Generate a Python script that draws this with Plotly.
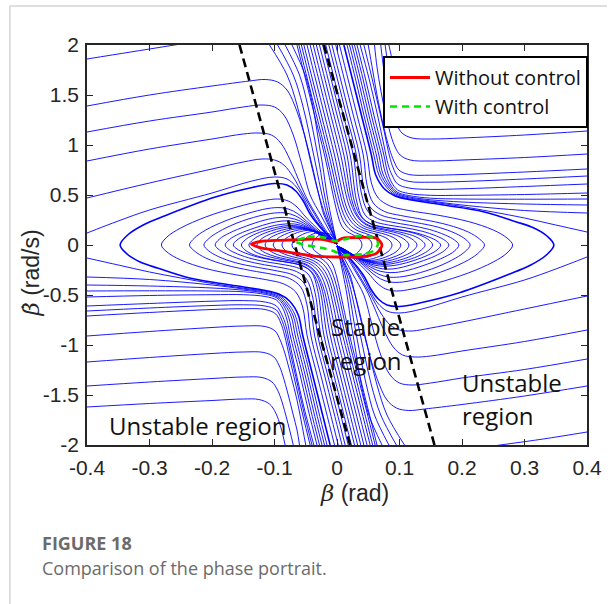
import plotly.graph_objects as go

# ---------------- tick labels ----------------
x_tick_vals = [-0.4, -0.3, -0.2, -0.1, 0.0, 0.1, 0.2, 0.3, 0.4]
x_tick_text = ["-0.4", "-0.3", "-0.2", "-0.1", "0", "0.1", "0.2", "0.3", "0.4"]
y_tick_vals = [2, 1.5, 1, 0.5, 0, -0.5, -1, -1.5, -2]
y_tick_text = ["2", "1.5", "1", "0.5", "0", "-0.5", "-1", "-1.5", "-2"]

# ---------------- streamlines: upper-left, entering from left edge ----------------
tl_x = [
    [-0.4, -0.33, -0.255],
    [-0.4, -0.3, -0.2, -0.14, -0.115, -0.095, -0.08, -0.068, -0.052, -0.04, -0.029, -0.021, -0.01, 0.0],
    [-0.4, -0.3, -0.2, -0.15, -0.12, -0.1, -0.085, -0.07, -0.056, -0.043, -0.026, -0.013, 0.0],
    [-0.4, -0.3, -0.2, -0.15, -0.125, -0.105, -0.09, -0.075, -0.058, -0.047, -0.031, -0.015, 0.0],
    [-0.4, -0.3, -0.2, -0.15, -0.12, -0.1, -0.085, -0.07, -0.054, -0.035, -0.017, 0.0],
    [-0.4, -0.35, -0.3, -0.2, -0.136, -0.1, -0.08, -0.065, -0.052, -0.039, -0.018, 0.0],
]
tl_y = [
    [1.86, 1.93, 2.005],
    [1.39, 1.50, 1.59, 1.64, 1.655, 1.63, 1.55, 1.4, 1.1, 0.8, 0.5, 0.3, 0.15, 0.01],
    [1.13, 1.24, 1.33, 1.38, 1.40, 1.38, 1.3, 1.1, 0.8, 0.5, 0.3, 0.15, 0.01],
    [0.84, 0.96, 1.06, 1.11, 1.12, 1.1, 1.02, 0.85, 0.6, 0.45, 0.28, 0.12, 0.01],
    [0.47, 0.62, 0.76, 0.83, 0.86, 0.85, 0.8, 0.68, 0.5, 0.3, 0.12, 0.01],
    [0.12, 0.24, 0.35, 0.52, 0.64, 0.68, 0.66, 0.58, 0.45, 0.3, 0.12, 0.01],
]

# lower-right, entering from right edge
br_x = [
    [0.4, 0.33, 0.255],
    [0.4, 0.3, 0.2, 0.14, 0.115, 0.095, 0.08, 0.068, 0.052, 0.04, 0.029, 0.021, 0.01, 0.0],
    [0.4, 0.3, 0.2, 0.15, 0.12, 0.1, 0.085, 0.07, 0.056, 0.043, 0.026, 0.013, 0.0],
    [0.4, 0.3, 0.2, 0.15, 0.125, 0.105, 0.09, 0.075, 0.058, 0.047, 0.031, 0.015, 0.0],
    [0.4, 0.3, 0.2, 0.15, 0.12, 0.1, 0.085, 0.07, 0.054, 0.035, 0.017, 0.0],
    [0.4, 0.35, 0.3, 0.2, 0.136, 0.1, 0.08, 0.065, 0.052, 0.039, 0.018, 0.0],
]
br_y = [
    [-1.87, -1.94, -2.005],
    [-1.41, -1.51, -1.595, -1.64, -1.655, -1.63, -1.55, -1.4, -1.1, -0.8, -0.5, -0.3, -0.15, -0.01],
    [-1.14, -1.245, -1.33, -1.38, -1.40, -1.38, -1.3, -1.1, -0.8, -0.5, -0.3, -0.15, -0.01],
    [-0.85, -0.965, -1.06, -1.11, -1.12, -1.1, -1.02, -0.85, -0.6, -0.45, -0.28, -0.12, -0.01],
    [-0.51, -0.64, -0.77, -0.83, -0.86, -0.85, -0.8, -0.68, -0.5, -0.3, -0.12, -0.01],
    [-0.12, -0.24, -0.35, -0.52, -0.64, -0.68, -0.66, -0.58, -0.45, -0.3, -0.12, -0.01],
]

# top bundle, left part -> into the node
t_x = [
    [-0.108, -0.08, -0.064, -0.052, -0.041, -0.029, -0.019, -0.009, 0.0],
    [-0.095, -0.07, -0.055, -0.044, -0.034, -0.024, -0.016, -0.008, 0.0],
    [-0.083, -0.06, -0.047, -0.037, -0.028, -0.02, -0.013, -0.006, 0.0],
    [-0.072, -0.051, -0.039, -0.031, -0.023, -0.016, -0.01, -0.005, 0.0],
]
t_y = [
    [2.0, 1.7, 1.4, 1.1, 0.8, 0.5, 0.3, 0.15, 0.01],
    [2.0, 1.7, 1.4, 1.1, 0.8, 0.5, 0.3, 0.15, 0.01],
    [2.0, 1.7, 1.4, 1.1, 0.8, 0.5, 0.3, 0.15, 0.01],
    [2.0, 1.7, 1.4, 1.1, 0.8, 0.5, 0.3, 0.15, 0.01],
]
# bottom bundle, right part -> into the node
b_x = [
    [0.108, 0.08, 0.064, 0.052, 0.041, 0.029, 0.019, 0.009, 0.0],
    [0.095, 0.07, 0.055, 0.044, 0.034, 0.024, 0.016, 0.008, 0.0],
    [0.083, 0.06, 0.047, 0.037, 0.028, 0.02, 0.013, 0.006, 0.0],
    [0.072, 0.051, 0.039, 0.031, 0.023, 0.016, 0.01, 0.005, 0.0],
]
b_y = [
    [-2.0, -1.7, -1.4, -1.1, -0.8, -0.5, -0.3, -0.15, -0.01],
    [-2.0, -1.7, -1.4, -1.1, -0.8, -0.5, -0.3, -0.15, -0.01],
    [-2.0, -1.7, -1.4, -1.1, -0.8, -0.5, -0.3, -0.15, -0.01],
    [-2.0, -1.7, -1.4, -1.1, -0.8, -0.5, -0.3, -0.15, -0.01],
]

# nested "<" family on the left (from bottom bundle, around vertex, into node)
lf_x = [
    [-0.011, -0.025, -0.039, -0.055, -0.062, -0.076, -0.093, -0.119, -0.17, -0.234, -0.286, -0.315, -0.336, -0.347, -0.335, -0.31, -0.275, -0.196, -0.134, -0.1, -0.08, -0.066, -0.054, -0.042, -0.02, 0.0],
    [-0.004, -0.018, -0.032, -0.048, -0.055, -0.066, -0.085, -0.115, -0.16, -0.21, -0.25, -0.272, -0.281, -0.272, -0.25, -0.21, -0.16, -0.12, -0.095, -0.078, -0.064, -0.05, -0.027, 0.0],
    [0.002, -0.012, -0.026, -0.042, -0.048, -0.058, -0.076, -0.102, -0.138, -0.178, -0.21, -0.228, -0.236, -0.228, -0.21, -0.175, -0.135, -0.105, -0.085, -0.07, -0.056, -0.04, -0.02, 0.0],
    [0.008, -0.006, -0.02, -0.036, -0.043, -0.053, -0.07, -0.095, -0.126, -0.162, -0.19, -0.206, -0.213, -0.205, -0.19, -0.16, -0.125, -0.1, -0.082, -0.066, -0.051, -0.035, -0.017, 0.0],
    [0.013, -0.001, -0.015, -0.031, -0.039, -0.049, -0.065, -0.088, -0.116, -0.148, -0.173, -0.188, -0.195, -0.188, -0.172, -0.145, -0.115, -0.093, -0.077, -0.061, -0.046, -0.031, -0.015, 0.0],
    [0.018, 0.004, -0.01, -0.026, -0.035, -0.045, -0.06, -0.082, -0.107, -0.136, -0.159, -0.173, -0.179, -0.172, -0.157, -0.132, -0.106, -0.088, -0.073, -0.058, -0.043, -0.028, -0.013, 0.0],
    [0.023, 0.009, -0.005, -0.021, -0.031, -0.041, -0.056, -0.076, -0.099, -0.126, -0.147, -0.16, -0.166, -0.16, -0.146, -0.123, -0.1, -0.083, -0.068, -0.054, -0.04, -0.026, -0.012, 0.0],
    [0.028, 0.014, 0.0, -0.016, -0.028, -0.039, -0.054, -0.073, -0.095, -0.117, -0.136, -0.148, -0.153, -0.147, -0.134, -0.114, -0.094, -0.077, -0.063, -0.05, -0.037, -0.024, -0.011, 0.0],
    [0.033, 0.019, 0.005, -0.011, -0.025, -0.036, -0.05, -0.067, -0.087, -0.107, -0.125, -0.136, -0.141, -0.135, -0.124, -0.106, -0.088, -0.073, -0.06, -0.047, -0.035, -0.022, -0.01, 0.0],
    [0.038, 0.024, 0.01, -0.006, -0.022, -0.034, -0.047, -0.063, -0.081, -0.099, -0.114, -0.124, -0.128, -0.123, -0.113, -0.097, -0.081, -0.067, -0.055, -0.044, -0.032, -0.02, -0.009, 0.0],
    [0.043, 0.029, 0.015, -0.001, -0.019, -0.03, -0.042, -0.057, -0.073, -0.089, -0.102, -0.111, -0.115, -0.111, -0.102, -0.088, -0.074, -0.061, -0.05, -0.04, -0.029, -0.018, -0.008, 0.0],
    [0.048, 0.034, 0.02, 0.004, -0.015, -0.026, -0.037, -0.05, -0.064, -0.078, -0.09, -0.098, -0.102, -0.098, -0.09, -0.078, -0.066, -0.055, -0.045, -0.036, -0.026, -0.016, -0.007, 0.0],
    [0.053, 0.039, 0.025, 0.009, -0.012, -0.022, -0.032, -0.043, -0.055, -0.067, -0.078, -0.085, -0.088, -0.085, -0.078, -0.068, -0.058, -0.048, -0.039, -0.031, -0.023, -0.014, -0.006, 0.0],
    [0.057, 0.043, 0.029, 0.013, -0.008, -0.017, -0.026, -0.035, -0.045, -0.054, -0.063, -0.069, -0.072, -0.069, -0.063, -0.055, -0.047, -0.039, -0.031, -0.024, -0.017, -0.01, -0.004, 0.0],
    [0.061, 0.047, 0.033, 0.017, -0.004, -0.012, -0.019, -0.026, -0.034, -0.042, -0.049, -0.054, -0.056, -0.054, -0.049, -0.042, -0.035, -0.028, -0.022, -0.016, -0.011, -0.006, -0.002, 0.0],
    [0.064, 0.05, 0.036, 0.02, 0.0, -0.006, -0.011, -0.017, -0.023, -0.029, -0.034, -0.038, -0.04, -0.038, -0.034, -0.029, -0.023, -0.017, -0.012, -0.008, -0.004, -0.001, 0.0],
]
lf_y = [
    [-2.0, -1.65, -1.3, -0.9, -0.7, -0.56, -0.49, -0.45, -0.40, -0.333, -0.233, -0.17, -0.09, 0.0, 0.1, 0.2, 0.293, 0.477, 0.577, 0.615, 0.6, 0.54, 0.44, 0.3, 0.13, 0.01],
    [-2.0, -1.65, -1.3, -0.9, -0.62, -0.47, -0.39, -0.345, -0.3, -0.235, -0.15, -0.07, 0.0, 0.08, 0.17, 0.28, 0.38, 0.44, 0.46, 0.44, 0.38, 0.28, 0.14, 0.01],
    [-2.0, -1.65, -1.3, -0.9, -0.6, -0.42, -0.335, -0.295, -0.255, -0.2, -0.13, -0.06, 0.0, 0.07, 0.15, 0.25, 0.33, 0.37, 0.37, 0.34, 0.28, 0.19, 0.09, 0.01],
    [-2.0, -1.65, -1.3, -0.9, -0.56, -0.38, -0.3, -0.26, -0.225, -0.178, -0.115, -0.055, 0.0, 0.065, 0.13, 0.22, 0.29, 0.32, 0.32, 0.29, 0.23, 0.15, 0.07, 0.01],
    [-2.0, -1.65, -1.3, -0.9, -0.52, -0.34, -0.265, -0.228, -0.198, -0.155, -0.1, -0.05, 0.0, 0.06, 0.12, 0.19, 0.25, 0.275, 0.272, 0.245, 0.19, 0.125, 0.06, 0.01],
    [-2.0, -1.65, -1.3, -0.9, -0.48, -0.3, -0.235, -0.2, -0.175, -0.138, -0.09, -0.045, 0.0, 0.055, 0.11, 0.17, 0.22, 0.24, 0.238, 0.215, 0.165, 0.11, 0.05, 0.01],
    [-2.0, -1.65, -1.3, -0.9, -0.45, -0.27, -0.208, -0.177, -0.155, -0.122, -0.08, -0.04, 0.0, 0.05, 0.1, 0.155, 0.195, 0.21, 0.21, 0.19, 0.15, 0.1, 0.045, 0.01],
    [-2.0, -1.65, -1.3, -0.9, -0.43, -0.28, -0.21, -0.178, -0.155, -0.128, -0.09, -0.045, 0.0, 0.05, 0.1, 0.148, 0.18, 0.195, 0.19, 0.17, 0.135, 0.09, 0.04, 0.01],
    [-2.0, -1.65, -1.3, -0.9, -0.42, -0.27, -0.2, -0.17, -0.147, -0.12, -0.085, -0.043, 0.0, 0.05, 0.095, 0.14, 0.17, 0.183, 0.18, 0.16, 0.127, 0.085, 0.038, 0.01],
    [-2.0, -1.65, -1.3, -0.9, -0.42, -0.27, -0.2, -0.165, -0.142, -0.115, -0.08, -0.04, 0.0, 0.05, 0.092, 0.132, 0.16, 0.173, 0.17, 0.152, 0.12, 0.08, 0.036, 0.01],
    [-2.0, -1.65, -1.3, -0.9, -0.4, -0.26, -0.192, -0.158, -0.135, -0.11, -0.078, -0.04, 0.0, 0.05, 0.09, 0.126, 0.152, 0.164, 0.161, 0.145, 0.115, 0.077, 0.034, 0.01],
    [-2.0, -1.65, -1.3, -0.9, -0.38, -0.25, -0.185, -0.15, -0.128, -0.105, -0.075, -0.04, 0.0, 0.048, 0.086, 0.12, 0.144, 0.155, 0.152, 0.137, 0.109, 0.073, 0.032, 0.01],
    [-2.0, -1.65, -1.3, -0.9, -0.36, -0.24, -0.178, -0.143, -0.122, -0.1, -0.072, -0.04, 0.0, 0.046, 0.082, 0.113, 0.135, 0.146, 0.144, 0.13, 0.104, 0.07, 0.031, 0.01],
    [-2.0, -1.65, -1.3, -0.9, -0.35, -0.23, -0.17, -0.138, -0.117, -0.095, -0.07, -0.04, 0.0, 0.044, 0.078, 0.106, 0.126, 0.136, 0.134, 0.12, 0.096, 0.065, 0.03, 0.01],
    [-2.0, -1.65, -1.3, -0.9, -0.34, -0.22, -0.165, -0.133, -0.112, -0.092, -0.068, -0.04, 0.0, 0.04, 0.073, 0.1, 0.118, 0.127, 0.124, 0.11, 0.088, 0.06, 0.03, 0.01],
    [-2.0, -1.65, -1.3, -0.9, -0.33, -0.21, -0.16, -0.13, -0.11, -0.09, -0.066, -0.04, 0.0, 0.038, 0.07, 0.095, 0.11, 0.116, 0.11, 0.09, 0.06, 0.03, 0.01],
]

# nested ">" family on the right (from top bundle, around vertex, into node)
rf_x = [
    [0.011, 0.025, 0.039, 0.055, 0.062, 0.076, 0.093, 0.119, 0.17, 0.234, 0.286, 0.315, 0.336, 0.347, 0.335, 0.31, 0.275, 0.196, 0.134, 0.1, 0.08, 0.066, 0.054, 0.042, 0.02, 0.0],
    [0.004, 0.018, 0.032, 0.048, 0.055, 0.066, 0.085, 0.115, 0.16, 0.21, 0.25, 0.272, 0.281, 0.272, 0.25, 0.21, 0.16, 0.12, 0.095, 0.078, 0.064, 0.05, 0.027, 0.0],
    [-0.002, 0.012, 0.026, 0.042, 0.048, 0.058, 0.076, 0.102, 0.138, 0.178, 0.21, 0.228, 0.236, 0.228, 0.21, 0.175, 0.135, 0.105, 0.085, 0.07, 0.056, 0.04, 0.02, 0.0],
    [-0.008, 0.006, 0.02, 0.036, 0.043, 0.053, 0.07, 0.095, 0.126, 0.162, 0.19, 0.206, 0.213, 0.205, 0.19, 0.16, 0.125, 0.1, 0.082, 0.066, 0.051, 0.035, 0.017, 0.0],
    [-0.013, 0.001, 0.015, 0.031, 0.039, 0.049, 0.065, 0.088, 0.116, 0.148, 0.173, 0.188, 0.195, 0.188, 0.172, 0.145, 0.115, 0.093, 0.077, 0.061, 0.046, 0.031, 0.015, 0.0],
    [-0.018, -0.004, 0.01, 0.026, 0.035, 0.045, 0.06, 0.082, 0.107, 0.136, 0.159, 0.173, 0.179, 0.172, 0.157, 0.132, 0.106, 0.088, 0.073, 0.058, 0.043, 0.028, 0.013, 0.0],
    [-0.023, -0.009, 0.005, 0.021, 0.031, 0.041, 0.056, 0.076, 0.099, 0.126, 0.147, 0.16, 0.166, 0.16, 0.146, 0.123, 0.1, 0.083, 0.068, 0.054, 0.04, 0.026, 0.012, 0.0],
    [-0.028, -0.014, 0.0, 0.016, 0.028, 0.039, 0.054, 0.073, 0.095, 0.117, 0.136, 0.148, 0.153, 0.147, 0.134, 0.114, 0.094, 0.077, 0.063, 0.05, 0.037, 0.024, 0.011, 0.0],
    [-0.033, -0.019, -0.005, 0.011, 0.025, 0.036, 0.05, 0.067, 0.087, 0.107, 0.125, 0.136, 0.141, 0.135, 0.124, 0.106, 0.088, 0.073, 0.06, 0.047, 0.035, 0.022, 0.01, 0.0],
    [-0.038, -0.024, -0.01, 0.006, 0.022, 0.034, 0.047, 0.063, 0.081, 0.099, 0.114, 0.124, 0.128, 0.123, 0.113, 0.097, 0.081, 0.067, 0.055, 0.044, 0.032, 0.02, 0.009, 0.0],
    [-0.043, -0.029, -0.015, 0.001, 0.019, 0.03, 0.042, 0.057, 0.073, 0.089, 0.102, 0.111, 0.115, 0.111, 0.102, 0.088, 0.074, 0.061, 0.05, 0.04, 0.029, 0.018, 0.008, 0.0],
    [-0.048, -0.034, -0.02, -0.004, 0.015, 0.026, 0.037, 0.05, 0.064, 0.078, 0.09, 0.098, 0.102, 0.098, 0.09, 0.078, 0.066, 0.055, 0.045, 0.036, 0.026, 0.016, 0.007, 0.0],
    [-0.053, -0.039, -0.025, -0.009, 0.012, 0.022, 0.032, 0.043, 0.055, 0.067, 0.078, 0.085, 0.088, 0.085, 0.078, 0.068, 0.058, 0.048, 0.039, 0.031, 0.023, 0.014, 0.006, 0.0],
    [-0.057, -0.043, -0.029, -0.013, 0.008, 0.017, 0.026, 0.035, 0.045, 0.054, 0.063, 0.069, 0.072, 0.069, 0.063, 0.055, 0.047, 0.039, 0.031, 0.024, 0.017, 0.01, 0.004, 0.0],
    [-0.061, -0.047, -0.033, -0.017, 0.004, 0.012, 0.019, 0.026, 0.034, 0.042, 0.049, 0.054, 0.056, 0.054, 0.049, 0.042, 0.035, 0.028, 0.022, 0.016, 0.011, 0.006, 0.002, 0.0],
    [-0.064, -0.05, -0.036, -0.02, 0.0, 0.006, 0.011, 0.017, 0.023, 0.029, 0.034, 0.038, 0.04, 0.038, 0.034, 0.029, 0.023, 0.017, 0.012, 0.008, 0.004, 0.001, 0.0],
]
rf_y = [
    [2.0, 1.65, 1.3, 0.9, 0.7, 0.56, 0.49, 0.45, 0.40, 0.333, 0.233, 0.17, 0.09, 0.0, -0.1, -0.2, -0.293, -0.477, -0.577, -0.615, -0.6, -0.54, -0.44, -0.3, -0.13, -0.01],
    [2.0, 1.65, 1.3, 0.9, 0.62, 0.47, 0.39, 0.345, 0.3, 0.235, 0.15, 0.07, 0.0, -0.08, -0.17, -0.28, -0.38, -0.44, -0.46, -0.44, -0.38, -0.28, -0.14, -0.01],
    [2.0, 1.65, 1.3, 0.9, 0.6, 0.42, 0.335, 0.295, 0.255, 0.2, 0.13, 0.06, 0.0, -0.07, -0.15, -0.25, -0.33, -0.37, -0.37, -0.34, -0.28, -0.19, -0.09, -0.01],
    [2.0, 1.65, 1.3, 0.9, 0.56, 0.38, 0.3, 0.26, 0.225, 0.178, 0.115, 0.055, 0.0, -0.065, -0.13, -0.22, -0.29, -0.32, -0.32, -0.29, -0.23, -0.15, -0.07, -0.01],
    [2.0, 1.65, 1.3, 0.9, 0.52, 0.34, 0.265, 0.228, 0.198, 0.155, 0.1, 0.05, 0.0, -0.06, -0.12, -0.19, -0.25, -0.275, -0.272, -0.245, -0.19, -0.125, -0.06, -0.01],
    [2.0, 1.65, 1.3, 0.9, 0.48, 0.3, 0.235, 0.2, 0.175, 0.138, 0.09, 0.045, 0.0, -0.055, -0.11, -0.17, -0.22, -0.24, -0.238, -0.215, -0.165, -0.11, -0.05, -0.01],
    [2.0, 1.65, 1.3, 0.9, 0.45, 0.27, 0.208, 0.177, 0.155, 0.122, 0.08, 0.04, 0.0, -0.05, -0.1, -0.155, -0.195, -0.21, -0.21, -0.19, -0.15, -0.1, -0.045, -0.01],
    [2.0, 1.65, 1.3, 0.9, 0.43, 0.28, 0.21, 0.178, 0.155, 0.128, 0.09, 0.045, 0.0, -0.05, -0.1, -0.148, -0.18, -0.195, -0.19, -0.17, -0.135, -0.09, -0.04, -0.01],
    [2.0, 1.65, 1.3, 0.9, 0.42, 0.27, 0.2, 0.17, 0.147, 0.12, 0.085, 0.043, 0.0, -0.05, -0.095, -0.14, -0.17, -0.183, -0.18, -0.16, -0.127, -0.085, -0.038, -0.01],
    [2.0, 1.65, 1.3, 0.9, 0.42, 0.27, 0.2, 0.165, 0.142, 0.115, 0.08, 0.04, 0.0, -0.05, -0.092, -0.132, -0.16, -0.173, -0.17, -0.152, -0.12, -0.08, -0.036, -0.01],
    [2.0, 1.65, 1.3, 0.9, 0.4, 0.26, 0.192, 0.158, 0.135, 0.11, 0.078, 0.04, 0.0, -0.05, -0.09, -0.126, -0.152, -0.164, -0.161, -0.145, -0.115, -0.077, -0.034, -0.01],
    [2.0, 1.65, 1.3, 0.9, 0.38, 0.25, 0.185, 0.15, 0.128, 0.105, 0.075, 0.04, 0.0, -0.048, -0.086, -0.12, -0.144, -0.155, -0.152, -0.137, -0.109, -0.073, -0.032, -0.01],
    [2.0, 1.65, 1.3, 0.9, 0.36, 0.24, 0.178, 0.143, 0.122, 0.1, 0.072, 0.04, 0.0, -0.046, -0.082, -0.113, -0.135, -0.146, -0.144, -0.13, -0.104, -0.07, -0.031, -0.01],
    [2.0, 1.65, 1.3, 0.9, 0.35, 0.23, 0.17, 0.138, 0.117, 0.095, 0.07, 0.04, 0.0, -0.044, -0.078, -0.106, -0.126, -0.136, -0.134, -0.12, -0.096, -0.065, -0.03, -0.01],
    [2.0, 1.65, 1.3, 0.9, 0.34, 0.22, 0.165, 0.133, 0.112, 0.092, 0.068, 0.04, 0.0, -0.04, -0.073, -0.1, -0.118, -0.127, -0.124, -0.11, -0.088, -0.06, -0.03, -0.01],
    [2.0, 1.65, 1.3, 0.9, 0.33, 0.21, 0.16, 0.13, 0.11, 0.09, 0.066, 0.04, 0.0, -0.038, -0.07, -0.095, -0.11, -0.116, -0.11, -0.09, -0.06, -0.03, -0.01],
]

# lower-left family: from bottom bundle, leaving through the left edge
bl_x = [
    [-0.4, -0.3, -0.2, -0.15, -0.125, -0.108, -0.098, -0.09, -0.083],
    [-0.4, -0.3, -0.2, -0.15, -0.12, -0.104, -0.096, -0.09, -0.082, -0.075, -0.07],
    [-0.4, -0.3, -0.2, -0.15, -0.117, -0.101, -0.093, -0.087, -0.078, -0.07, -0.064, -0.06],
    [-0.4, -0.3, -0.2, -0.15, -0.115, -0.099, -0.091, -0.084, -0.074, -0.064, -0.057, -0.05],
    [-0.4, -0.3, -0.2, -0.15, -0.115, -0.098, -0.09, -0.084, -0.075, -0.064, -0.054, -0.043],
    [-0.4, -0.3, -0.2, -0.15, -0.115, -0.097, -0.089, -0.083, -0.075, -0.063, -0.052, -0.04],
    [-0.4, -0.3, -0.2, -0.15, -0.115, -0.097, -0.088, -0.082, -0.075, -0.063, -0.051, -0.037],
    [-0.4, -0.3, -0.2, -0.15, -0.115, -0.097, -0.087, -0.08, -0.075, -0.059, -0.046, -0.032],
    [-0.4, -0.3, -0.2, -0.15, -0.115, -0.096, -0.085, -0.077, -0.071, -0.055, -0.042, -0.028],
    [-0.4, -0.3, -0.2, -0.15, -0.115, -0.095, -0.083, -0.073, -0.067, -0.051, -0.038, -0.024],
    [-0.4, -0.3, -0.2, -0.15, -0.115, -0.094, -0.081, -0.07, -0.063, -0.047, -0.034, -0.020],
    [-0.4, -0.35, -0.3, -0.25, -0.2, -0.15, -0.115, -0.093, -0.079, -0.067, -0.059, -0.043, -0.030, -0.016],
]
bl_y = [
    [-1.62, -1.585, -1.555, -1.54, -1.545, -1.59, -1.68, -1.82, -2.0],
    [-1.41, -1.37, -1.335, -1.32, -1.325, -1.37, -1.44, -1.53, -1.7, -1.87, -2.0],
    [-1.17, -1.125, -1.085, -1.07, -1.075, -1.12, -1.2, -1.3, -1.5, -1.7, -1.85, -2.0],
    [-0.91, -0.865, -0.825, -0.81, -0.815, -0.86, -0.95, -1.07, -1.3, -1.55, -1.77, -2.0],
    [-0.71, -0.675, -0.645, -0.637, -0.645, -0.69, -0.78, -0.9, -1.15, -1.45, -1.72, -2.0],
    [-0.66, -0.63, -0.605, -0.598, -0.61, -0.65, -0.74, -0.85, -1.07, -1.4, -1.7, -2.0],
    [-0.61, -0.585, -0.562, -0.556, -0.57, -0.61, -0.7, -0.8, -1.0, -1.35, -1.67, -2.0],
    [-0.52, -0.505, -0.497, -0.497, -0.515, -0.55, -0.63, -0.75, -0.9, -1.3, -1.65, -2.0],
    [-0.46, -0.458, -0.46, -0.468, -0.494, -0.53, -0.61, -0.73, -0.9, -1.3, -1.65, -2.0],
    [-0.40, -0.41, -0.43, -0.452, -0.482, -0.52, -0.6, -0.72, -0.9, -1.3, -1.65, -2.0],
    [-0.32, -0.345, -0.4, -0.44, -0.472, -0.51, -0.59, -0.71, -0.9, -1.3, -1.65, -2.0],
    [-0.13, -0.2, -0.27, -0.33, -0.385, -0.432, -0.462, -0.5, -0.58, -0.7, -0.9, -1.3, -1.65, -2.0],
]

# upper-right family: from top bundle, leaving through the right edge
tr_x = [
    [0.4, 0.3, 0.2, 0.15, 0.125, 0.108, 0.098, 0.09, 0.083],
    [0.4, 0.3, 0.2, 0.15, 0.12, 0.105, 0.097, 0.09, 0.083, 0.077],
    [0.4, 0.3, 0.2, 0.15, 0.12, 0.104, 0.096, 0.09, 0.082, 0.075, 0.07],
    [0.4, 0.3, 0.2, 0.15, 0.117, 0.101, 0.093, 0.087, 0.078, 0.07, 0.064, 0.06],
    [0.4, 0.3, 0.2, 0.15, 0.115, 0.099, 0.091, 0.084, 0.074, 0.064, 0.057, 0.05],
    [0.4, 0.3, 0.2, 0.15, 0.115, 0.098, 0.09, 0.084, 0.075, 0.064, 0.054, 0.043],
    [0.4, 0.3, 0.2, 0.15, 0.115, 0.097, 0.088, 0.082, 0.075, 0.063, 0.051, 0.037],
    [0.4, 0.3, 0.2, 0.15, 0.115, 0.097, 0.087, 0.08, 0.075, 0.059, 0.046, 0.032],
    [0.4, 0.3, 0.2, 0.15, 0.115, 0.096, 0.085, 0.077, 0.071, 0.055, 0.042, 0.028],
    [0.4, 0.3, 0.2, 0.15, 0.115, 0.095, 0.083, 0.073, 0.067, 0.051, 0.038, 0.024],
    [0.4, 0.3, 0.2, 0.15, 0.115, 0.094, 0.081, 0.07, 0.063, 0.047, 0.034, 0.020],
    [0.4, 0.35, 0.3, 0.25, 0.2, 0.15, 0.115, 0.093, 0.079, 0.067, 0.059, 0.043, 0.030, 0.016],
]
tr_y = [
    [1.62, 1.585, 1.555, 1.54, 1.545, 1.59, 1.68, 1.82, 2.0],
    [1.40, 1.36, 1.325, 1.31, 1.315, 1.36, 1.43, 1.55, 1.75, 2.0],
    [1.14, 1.1, 1.07, 1.06, 1.07, 1.12, 1.2, 1.3, 1.5, 1.75, 2.0],
    [0.91, 0.875, 0.85, 0.84, 0.85, 0.9, 0.98, 1.08, 1.3, 1.55, 1.78, 2.0],
    [0.76, 0.73, 0.705, 0.698, 0.705, 0.75, 0.84, 0.96, 1.2, 1.5, 1.75, 2.0],
    [0.69, 0.66, 0.635, 0.628, 0.636, 0.68, 0.77, 0.89, 1.15, 1.45, 1.72, 2.0],
    [0.61, 0.585, 0.562, 0.556, 0.57, 0.61, 0.7, 0.8, 1.0, 1.35, 1.67, 2.0],
    [0.52, 0.505, 0.497, 0.497, 0.515, 0.55, 0.63, 0.75, 0.9, 1.3, 1.65, 2.0],
    [0.46, 0.458, 0.46, 0.468, 0.494, 0.53, 0.61, 0.73, 0.9, 1.3, 1.65, 2.0],
    [0.40, 0.41, 0.43, 0.452, 0.482, 0.52, 0.6, 0.72, 0.9, 1.3, 1.65, 2.0],
    [0.32, 0.345, 0.4, 0.44, 0.472, 0.51, 0.59, 0.71, 0.9, 1.3, 1.65, 2.0],
    [0.13, 0.2, 0.27, 0.33, 0.385, 0.432, 0.462, 0.5, 0.58, 0.7, 0.9, 1.3, 1.65, 2.0],
]

# stability boundaries (dashed)
bound_left_x = [-0.156, 0.021]
bound_left_y = [2.0, -2.0]
bound_right_x = [-0.021, 0.156]
bound_right_y = [2.0, -2.0]

# trajectories
red_x = [-0.002, 0.008, 0.037, 0.063, 0.072, 0.063, 0.037, 0.0, -0.04, -0.093, -0.123, -0.137, -0.123, -0.09, -0.067, -0.025, -0.002]
red_y = [0.033, 0.067, 0.075, 0.067, 0.0, -0.083, -0.118, -0.12, -0.108, -0.057, -0.027, 0.01, 0.035, 0.047, 0.052, 0.057, 0.033]
green_x = [-0.067, -0.047, -0.022, -0.003, 0.011, 0.032, 0.053, 0.066, 0.058, 0.042, 0.022, 0.011, -0.003, -0.025, -0.05, -0.067]
green_y = [0.035, 0.08, 0.077, 0.04, 0.055, 0.09, 0.083, 0.02, -0.06, -0.09, -0.1, -0.1, -0.067, -0.027, 0.0, 0.035]

legend_names = ["Without control", "With control"]

fig = go.Figure()

BLUE = "#0000ff"


def add_family(xs, ys, width=0.9):
    for cx, cy in zip(xs, ys):
        fig.add_trace(go.Scatter(x=cx, y=cy, mode="lines",
                                 line=dict(color=BLUE, width=width, shape="spline", smoothing=1.0),
                                 showlegend=False, hoverinfo="skip"))


add_family(tl_x, tl_y)
add_family(br_x, br_y)
add_family(t_x, t_y)
add_family(b_x, b_y)
add_family(bl_x, bl_y)
add_family(tr_x, tr_y)
add_family(lf_x[1:], lf_y[1:])
add_family(rf_x[1:], rf_y[1:])
add_family(lf_x[:1], lf_y[:1], width=1.6)
add_family(rf_x[:1], rf_y[:1], width=1.6)

for bx, by in [(bound_left_x, bound_left_y), (bound_right_x, bound_right_y)]:
    fig.add_trace(go.Scatter(x=bx, y=by, mode="lines",
                             line=dict(color="black", width=2.6, dash="9px,5px"),
                             showlegend=False, hoverinfo="skip"))

fig.add_trace(go.Scatter(x=red_x, y=red_y, mode="lines", name=legend_names[0],
                         line=dict(color="#ff0000", width=2.8, shape="spline", smoothing=0.8)))
fig.add_trace(go.Scatter(x=green_x, y=green_y, mode="lines", name=legend_names[1],
                         line=dict(color="#00e600", width=2.6, dash="7px,5px", shape="spline", smoothing=0.8)))

AX = dict(showline=True, linewidth=1.6, linecolor="#262626", mirror="ticks",
          ticks="inside", ticklen=6, tickwidth=1.4, tickcolor="#262626",
          showgrid=False, zeroline=False,
          tickfont=dict(family="Liberation Sans, Arial", size=21, color="#262626"))

fig.update_xaxes(range=[-0.4, 0.4], tickvals=x_tick_vals, ticktext=x_tick_text, ticklabelstandoff=3, **AX)
fig.update_yaxes(range=[-2, 2], tickvals=y_tick_vals, ticktext=y_tick_text, ticklabelstandoff=2, **AX)

TXT = dict(family="Open Sans", size=24, color="#111111")
ann = [
    dict(x=-0.223, y=-1.8, xref="x", yref="y", text="Unstable region", showarrow=False, font=TXT),
    dict(x=0.046, y=-0.81, xref="x", yref="y", text="Stable", showarrow=False, font=TXT),
    dict(x=0.046, y=-1.15, xref="x", yref="y", text="region", showarrow=False, font=TXT),
    dict(x=0.196, y=-1.37, xref="x", yref="y", text="Unstable", showarrow=False, font=TXT, xanchor="left"),
    dict(x=0.196, y=-1.70, xref="x", yref="y", text="region", showarrow=False, font=TXT, xanchor="left"),
    dict(x=0.535, y=-0.12, xref="paper", yref="paper", xanchor="center", yanchor="middle",
         text="<span style='font-family:DejaVu Serif'><i>β</i></span> (rad)", showarrow=False,
         font=dict(family="Liberation Sans, Arial", size=23, color="#262626")),
    dict(x=-0.113, y=0.43, xref="paper", yref="paper", textangle=-90, xanchor="center", yanchor="middle",
         text="<span style='font-family:DejaVu Serif'><i>β\u0307</i></span> (rad/s)", showarrow=False,
         font=dict(family="Liberation Sans, Arial", size=23, color="#262626")),
    dict(x=-0.0938, y=-0.245, xref="paper", yref="paper", xanchor="left", yanchor="middle",
         text="<b>FIGURE 18</b>",
         showarrow=False, font=dict(family="Open Sans", size=18, color="#6b6b6b")),
    dict(x=-0.0938, y=-0.3075, xref="paper", yref="paper", xanchor="left", yanchor="middle",
         text="Comparison of the phase portrait.",
         showarrow=False, font=dict(family="Open Sans", size=18, color="#6b6b6b")),
]

shapes = [
    dict(type="line", xref="paper", yref="paper", x0=-0.1543, y0=1.0975, x1=1.04, y1=1.0975,
         line=dict(color="#d4d4d4", width=1.5)),
    dict(type="line", xref="paper", yref="paper", x0=-0.1543, y0=1.0975, x1=-0.1543, y1=-0.41,
         line=dict(color="#d4d4d4", width=1.5)),
]

fig.update_layout(
    width=614, height=604,
    margin=dict(l=87, r=15, t=45, b=159),
    paper_bgcolor="white", plot_bgcolor="white",
    annotations=ann, shapes=shapes,
    legend=dict(x=0.592, y=0.9725, xanchor="left", yanchor="top",
                bgcolor="white", bordercolor="black", borderwidth=2,
                font=dict(family="Open Sans", size=20, color="#111111"),
                itemwidth=40, tracegroupgap=0),
)

fig.write_html("out.html")
